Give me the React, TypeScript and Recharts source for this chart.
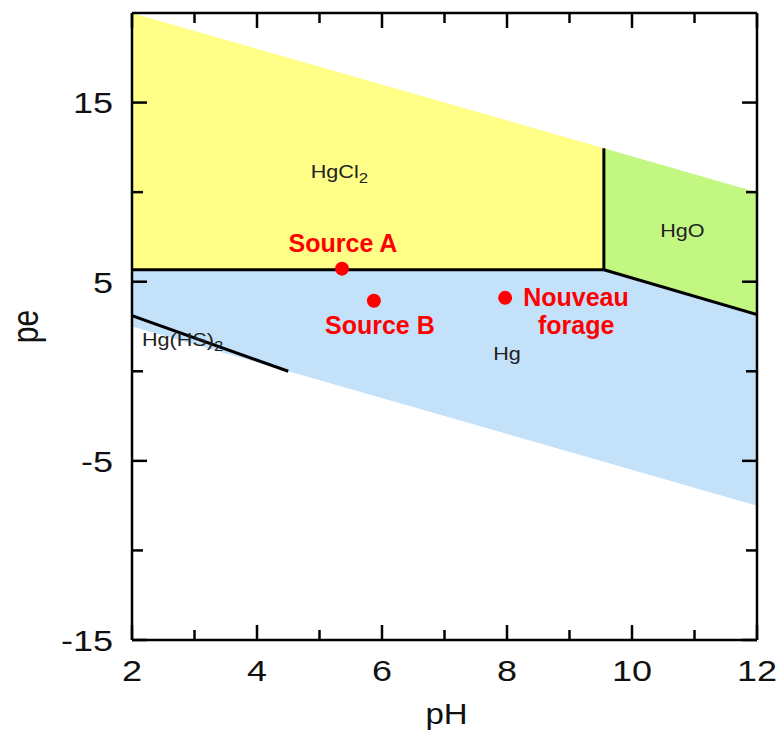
import {
  Area,
  ComposedChart,
  Label,
  Line,
  ReferenceLine,
  Scatter,
  XAxis,
  YAxis,
} from "recharts";

// pH break points where the boundaries change
const ph = [2, 4.5, 9.55, 12];
// upper water stability limit (O2/H2O)
const peUpperWater = [20, 17.5, 12.45, 10];
// lower water stability limit (H2O/H2)
const peLowerWater = [2.5, 0, -5.05, -7.5];
// HgCl2 / Hg boundary
const peHgCl2Hg = [5.67, 5.67, 5.67, null];
// HgO / Hg boundary
const peHgOHg = [null, null, 5.67, 3.16];
// Hg(HS)2 / Hg boundary
const peHgHS2 = [3.1, 0, null, null];

const samples = [
  { name: "Source A", ph: 5.36, pe: 5.73 },
  { name: "Source B", ph: 5.87, pe: 3.94 },
  { name: "Nouveau forage", ph: 7.97, pe: 4.1 },
];

const regions = [
  { name: "HgCl", sub: "2", ph: 4.86, pe: 10.81 },
  { name: "HgO", sub: "", ph: 10.45, pe: 7.51 },
  { name: "Hg(HS)", sub: "2", ph: 2.16, pe: 1.42 },
  { name: "Hg", sub: "", ph: 7.78, pe: 0.64 },
];

const xMajor = [2, 4, 6, 8, 10, 12];
const xTicks = [2, 3, 4, 5, 6, 7, 8, 9, 10, 11, 12];
const yTicks = [-15, -10, -5, 0, 5, 10, 15];
const yLabeled = [-15, -5, 5, 15];

const FONT = "'Liberation Sans', Arial, Helvetica, sans-serif";
const STRETCH = 1.2;

const rows = ph.map((p, i) => {
  const upper = peHgCl2Hg[i] ?? peHgOHg[i];
  return {
    ph: p,
    blue: [peLowerWater[i], upper],
    yellow: peHgCl2Hg[i] != null ? [peHgCl2Hg[i], peUpperWater[i]] : null,
    green: peHgOHg[i] != null ? [peHgOHg[i], peUpperWater[i]] : null,
    hgcl2Hg: peHgCl2Hg[i],
    hgoHg: peHgOHg[i],
    hgHS2: peHgHS2[i],
  };
});

// where each sample label sits relative to its dot
const labelPlace: Record<string, { dx: number; dy: number; anchor: string }> = {
  "Source A": { dx: 1, dy: -17, anchor: "middle" },
  "Source B": { dx: 6, dy: 33, anchor: "middle" },
  "Nouveau forage": { dx: 18, dy: 8, anchor: "start" },
};

const BottomTick = (props: any) => {
  const { x, y, payload } = props;
  const v = payload.value;
  const major = xMajor.includes(v);
  return (
    <g>
      <line x1={x} x2={x} y1={y} y2={y - (major ? 15 : 10)} stroke="#000" strokeWidth={2.5} />
      {major && (
        <text
          transform={`translate(${x},${y + 41}) scale(${STRETCH},1)`}
          textAnchor="middle"
          fontSize={30}
          fontFamily={FONT}
          fill="#111"
        >
          {v}
        </text>
      )}
    </g>
  );
};

const TopTick = (props: any) => {
  const { x, y, payload } = props;
  const major = xMajor.includes(payload.value);
  return <line x1={x} x2={x} y1={y} y2={y + (major ? 15 : 10)} stroke="#000" strokeWidth={2.5} />;
};

const LeftTick = (props: any) => {
  const { x, y, payload } = props;
  const v = payload.value;
  const major = yLabeled.includes(v);
  return (
    <g>
      <line x1={x} x2={x + (major ? 15 : 11)} y1={y} y2={y} stroke="#000" strokeWidth={2.5} />
      {major && (
        <text
          transform={`translate(${x - 19},${y}) scale(${STRETCH},1)`}
          textAnchor="end"
          dy="0.36em"
          fontSize={30}
          fontFamily={FONT}
          fill="#111"
        >
          {v}
        </text>
      )}
    </g>
  );
};

const RightTick = (props: any) => {
  const { x, y, payload } = props;
  const major = yLabeled.includes(payload.value);
  return <line x1={x} x2={x - (major ? 15 : 11)} y1={y} y2={y} stroke="#000" strokeWidth={2.5} />;
};

const SampleDot = (props: any) => {
  const { cx, cy, payload } = props;
  const place = labelPlace[payload.name];
  const words = payload.name.split(" ");
  const twoLines = place.anchor === "start";
  return (
    <g>
      <circle cx={cx} cy={cy} r={7} fill="#ff0000" />
      {twoLines ? (
        <text fontFamily={FONT} fontWeight="bold" fontSize={25} fill="#ff0000">
          <tspan x={cx + place.dx} y={cy + place.dy}>{words[0]}</tspan>
          <tspan x={cx + place.dx + 53} y={cy + place.dy + 28} textAnchor="middle">{words[1]}</tspan>
        </text>
      ) : (
        <text
          x={cx + place.dx}
          y={cy + place.dy}
          textAnchor={place.anchor as any}
          fontFamily={FONT}
          fontWeight="bold"
          fontSize={25}
          fill="#ff0000"
        >
          {payload.name}
        </text>
      )}
    </g>
  );
};

const RegionText = (props: any) => {
  const { cx, cy, payload } = props;
  return (
    <text
      transform={`translate(${cx},${cy}) scale(${STRETCH},1)`}
      fontFamily={FONT}
      fontSize={18}
      fill="#222"
    >
      {payload.name}
      {payload.sub && (
        <tspan dy={5} fontSize={14}>
          {payload.sub}
        </tspan>
      )}
    </text>
  );
};

const PHTitle = (props: any) => {
  const { viewBox } = props;
  const cx = viewBox.x + viewBox.width / 2;
  return (
    <text
      transform={`translate(${cx + 2},${viewBox.y + 84}) scale(1.1,1)`}
      textAnchor="middle"
      fontSize={30}
      fontFamily={FONT}
      fill="#111"
    >
      pH
    </text>
  );
};

const PETitle = (props: any) => {
  const { viewBox } = props;
  const cy = viewBox.y + viewBox.height / 2;
  return (
    <text
      transform={`translate(38,${cy}) scale(1.25,1) rotate(-90)`}
      textAnchor="middle"
      fontSize={30}
      fontFamily={FONT}
      fill="#111"
    >
      pe
    </text>
  );
};

export default function App() {
  const axisLine = { stroke: "#000", strokeWidth: 2.5 };
  return (
    <div style={{ position: "absolute", left: 0, top: 0 }}>
      <ComposedChart
        width={781}
        height={740}
        data={rows}
        margin={{ top: 12, right: 23, bottom: 0, left: 0 }}
      >
        <XAxis
          dataKey="ph"
          type="number"
          domain={[2, 12]}
          ticks={xTicks}
          interval={0}
          allowDataOverflow
          height={100}
          tickSize={0}
          tickMargin={0}
          tickLine={false}
          axisLine={axisLine}
          tick={<BottomTick />}
        >
          <Label content={<PHTitle />} />
        </XAxis>
        <XAxis
          xAxisId="top"
          dataKey="ph"
          orientation="top"
          type="number"
          domain={[2, 12]}
          ticks={xTicks}
          interval={0}
          allowDataOverflow
          height={1}
          tickSize={0}
          tickMargin={0}
          tickLine={false}
          axisLine={axisLine}
          tick={<TopTick />}
        />
        <YAxis
          type="number"
          domain={[-15, 20]}
          ticks={yTicks}
          interval={0}
          allowDataOverflow
          width={132}
          tickSize={0}
          tickMargin={0}
          tickLine={false}
          axisLine={axisLine}
          tick={<LeftTick />}
        >
          <Label content={<PETitle />} />
        </YAxis>
        <YAxis
          yAxisId="right"
          orientation="right"
          type="number"
          domain={[-15, 20]}
          ticks={yTicks}
          interval={0}
          allowDataOverflow
          width={1}
          tickSize={0}
          tickMargin={0}
          tickLine={false}
          axisLine={axisLine}
          tick={<RightTick />}
        />

        <Area
          type="linear"
          dataKey="blue"
          stroke="none"
          fill="#c4e1fa"
          fillOpacity={1}
          isAnimationActive={false}
        />
        <Area
          type="linear"
          dataKey="yellow"
          stroke="none"
          fill="#ffff88"
          fillOpacity={1}
          isAnimationActive={false}
        />
        <Area
          type="linear"
          dataKey="green"
          stroke="none"
          fill="#c2f782"
          fillOpacity={1}
          isAnimationActive={false}
        />

        <Line type="linear" dataKey="hgcl2Hg" stroke="#000" strokeWidth={3} dot={false} isAnimationActive={false} />
        <Line type="linear" dataKey="hgoHg" stroke="#000" strokeWidth={3} dot={false} isAnimationActive={false} />
        <Line type="linear" dataKey="hgHS2" stroke="#000" strokeWidth={3} dot={false} isAnimationActive={false} />
        <ReferenceLine
          segment={[
            { x: ph[2], y: peHgCl2Hg[2] as number },
            { x: ph[2], y: peUpperWater[2] },
          ]}
          stroke="#000"
          strokeWidth={3}
        />

        <Scatter data={regions} dataKey="pe" shape={<RegionText />} isAnimationActive={false} />
        <Scatter data={samples} dataKey="pe" shape={<SampleDot />} isAnimationActive={false} />
      </ComposedChart>
    </div>
  );
}
